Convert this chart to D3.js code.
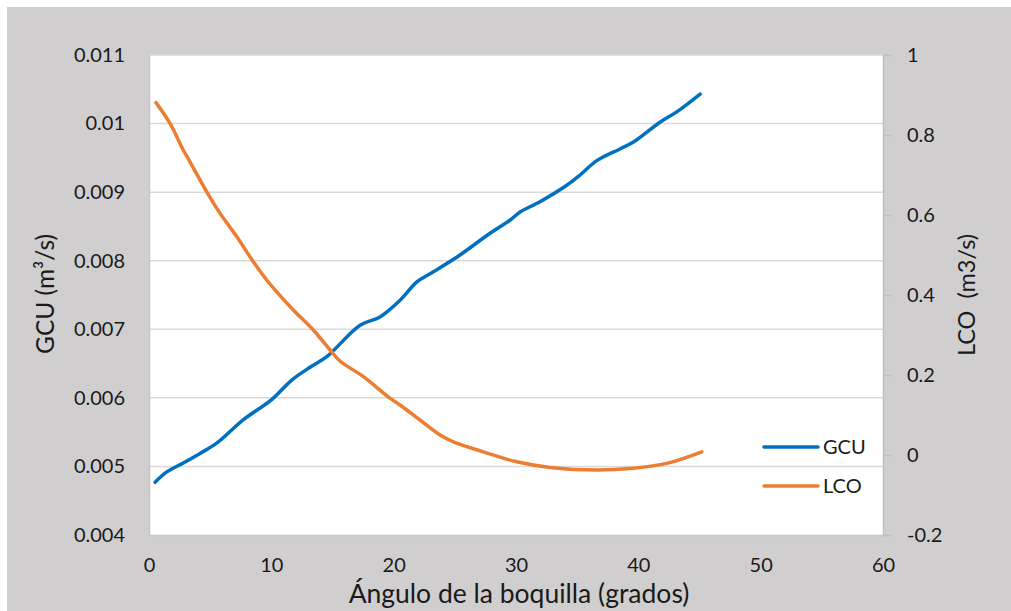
<!DOCTYPE html>
<html>
<head>
<meta charset="utf-8">
<script src="https://cdn.jsdelivr.net/npm/d3@7"></script>
<style>
  html, body { margin: 0; padding: 0; background: #ffffff; }
  svg { display: block; }
  text { font-family: Lato, "Open Sans", sans-serif; fill: #1a1a1a; }
</style>
</head>
<body>
<svg id="chart" width="1011" height="611"></svg>
<script>
// GCU series (left axis, m³/s) against nozzle angle in degrees
const gcuAngle = [0.5, 1.45, 2.8, 4.17, 5.53, 7.7, 10.0, 11.67, 13.2, 14.53, 17.25, 18.88, 20.5, 21.9, 22.97, 25.15, 27.88, 29.5, 30.33, 31.96, 34.15, 35.24, 36.6, 38.5, 39.6, 41.77, 43.14, 45.05];
const gcuValue = [0.00477, 0.00492, 0.00505, 0.00519, 0.00534, 0.00568, 0.00597, 0.00626, 0.00645, 0.00660, 0.00706, 0.00718, 0.00742, 0.00769, 0.00781, 0.00805, 0.00840, 0.00859, 0.00871, 0.00886, 0.00910, 0.00925, 0.00946, 0.00963, 0.00973, 0.01002, 0.01017, 0.01043];

// LCO series (right axis, m3/s)
const lcoAngle = [0.57, 1.72, 2.8, 3.35, 4.72, 5.81, 7.17, 8.53, 9.62, 10.44, 11.8, 13.43, 14.81, 15.61, 17.52, 19.7, 20.52, 22.15, 23.79, 24.88, 27.33, 30.06, 32.78, 36.6, 39.59, 42.32, 45.18];
const lcoValue = [0.881, 0.829, 0.7625, 0.733, 0.658, 0.604, 0.546, 0.483, 0.4375, 0.408, 0.3625, 0.3125, 0.2625, 0.235, 0.196, 0.142, 0.125, 0.0875, 0.05, 0.033, 0.008, -0.017, -0.031, -0.0375, -0.033, -0.021, 0.008];

const xTicks = [0, 10, 20, 30, 40, 50, 60];
const leftTicks = [0.004, 0.005, 0.006, 0.007, 0.008, 0.009, 0.01, 0.011];
const rightTicks = [-0.2, 0, 0.2, 0.4, 0.6, 0.8, 1];

const seriesNames = ["GCU", "LCO"];
const seriesColors = ["#0070c0", "#ed7d31"];

const svg = d3.select("#chart");
const W = 1011, H = 611;
const plot = { left: 149, right: 883, top: 55, bottom: 535 };

// chart background
svg.append("rect").attr("x", 7).attr("y", 7).attr("width", W - 7).attr("height", H - 7).attr("fill", "#d0cecf");
svg.append("rect").attr("x", plot.left).attr("y", plot.top)
  .attr("width", plot.right - plot.left).attr("height", plot.bottom - plot.top).attr("fill", "#ffffff");

const x = d3.scaleLinear().domain([0, 60]).range([plot.left, plot.right]);
const yL = d3.scaleLinear().domain([0.004, 0.011]).range([plot.bottom, plot.top]);
const yR = d3.scaleLinear().domain([-0.2, 1]).range([plot.bottom, plot.top]);

// plain numbers with an ASCII hyphen for negatives
const plain = d => String(+d.toFixed(4));

// horizontal gridlines from the left axis
svg.append("g").selectAll("line").data(leftTicks.slice(1)).join("line")
  .attr("x1", plot.left).attr("x2", plot.right)
  .attr("y1", d => yL(d)).attr("y2", d => yL(d))
  .attr("stroke", "#d9d9d9").attr("stroke-width", 1.5);

// left axis
const leftAxis = svg.append("g").attr("transform", `translate(${plot.left},0)`)
  .call(d3.axisLeft(yL).tickValues(leftTicks).tickSize(0).tickPadding(24).tickFormat(plain));
leftAxis.select(".domain").attr("stroke", "#c8c6c7").attr("stroke-width", 1.5);
leftAxis.selectAll("text").style("font-size", "20px").attr("fill", "#1a1a1a");

// right axis
const rightAxis = svg.append("g").attr("transform", `translate(${plot.right},0)`)
  .call(d3.axisRight(yR).tickValues(rightTicks).tickSize(8).tickPadding(16).tickFormat(plain));
rightAxis.select(".domain").attr("stroke", "#bfbfbf").attr("stroke-width", 1.5);
rightAxis.selectAll(".tick line").attr("stroke", "#bfbfbf").attr("stroke-width", 1.5);
rightAxis.selectAll("text").style("font-size", "20px").attr("fill", "#1a1a1a");

// bottom axis
const bottomAxis = svg.append("g").attr("transform", `translate(0,${plot.bottom})`)
  .call(d3.axisBottom(x).tickValues(xTicks).tickSize(0).tickPadding(23).tickFormat(plain));
bottomAxis.select(".domain").attr("stroke", "#c8c6c7").attr("stroke-width", 1.5);
bottomAxis.selectAll("text").style("font-size", "20px").attr("fill", "#1a1a1a");

// series lines
const gcuData = gcuAngle.map((a, i) => [a, gcuValue[i]]);
const lcoData = lcoAngle.map((a, i) => [a, lcoValue[i]]);

svg.append("path").datum(gcuData)
  .attr("fill", "none").attr("stroke", seriesColors[0]).attr("stroke-width", 3.5)
  .attr("stroke-linecap", "round").attr("stroke-linejoin", "round")
  .attr("d", d3.line().x(d => x(d[0])).y(d => yL(d[1])).curve(d3.curveCatmullRom.alpha(0.5)));

svg.append("path").datum(lcoData)
  .attr("fill", "none").attr("stroke", seriesColors[1]).attr("stroke-width", 3.5)
  .attr("stroke-linecap", "round").attr("stroke-linejoin", "round")
  .attr("d", d3.line().x(d => x(d[0])).y(d => yR(d[1])).curve(d3.curveCatmullRom.alpha(0.5)));

// legend
const legend = svg.append("g");
seriesNames.forEach((name, i) => {
  const ly = 447 + i * 39;
  legend.append("line").attr("x1", 764).attr("x2", 818).attr("y1", ly).attr("y2", ly)
    .attr("stroke", seriesColors[i]).attr("stroke-width", 3.5).attr("stroke-linecap", "round");
  legend.append("text").attr("x", 823).attr("y", ly).attr("dy", "0.36em")
    .style("font-size", "20px").text(name);
});

// axis titles
svg.append("text").attr("x", (plot.left + plot.right) / 2 + 3).attr("y", 603)
  .attr("text-anchor", "middle").style("font-size", "26.5px")
  .text("Ángulo de la boquilla (grados)");

svg.append("text").attr("transform", "translate(45,294) rotate(-90)")
  .attr("text-anchor", "middle").attr("dy", "0.36em").style("font-size", "24.5px")
  .text("GCU (m³/s)");

svg.append("text").attr("transform", "translate(967,295) rotate(-90)")
  .attr("text-anchor", "middle").attr("dy", "0.36em").style("font-size", "23.5px")
  .style("white-space", "pre").attr("xml:space", "preserve")
  .text("LCO  (m3/s)");
</script>
</body>
</html>
